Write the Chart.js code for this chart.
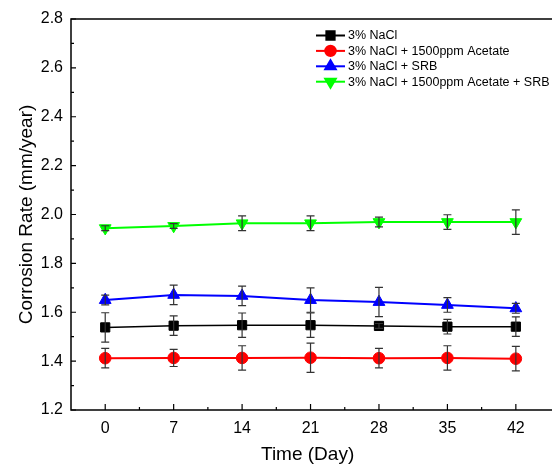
<!DOCTYPE html>
<html>
<head>
<meta charset="utf-8">
<script src="https://cdn.jsdelivr.net/npm/chart.js@4.4.1/dist/chart.umd.min.js"></script>
<style>
html,body{margin:0;padding:0;background:#fff;overflow:hidden;}
#wrap{width:552px;height:468px;position:relative;}
</style>
</head>
<body>
<div id="wrap"><canvas id="c" width="552" height="468"></canvas></div>
<script>
const days = [0, 7, 14, 21, 28, 35, 42];
const yTicks = [1.2, 1.4, 1.6, 1.8, 2.0, 2.2, 2.4, 2.6, 2.8];
const labels = ['3% NaCl', '3% NaCl + 1500ppm Acetate', '3% NaCl + SRB', '3% NaCl + 1500ppm Acetate + SRB'];
const nacl = [1.538, 1.545, 1.547, 1.547, 1.544, 1.541, 1.541];
const naclErr = [0.06, 0.04, 0.05, 0.05, 0.01, 0.03, 0.04];
const acetate = [1.412, 1.413, 1.413, 1.414, 1.412, 1.413, 1.410];
const acetateErr = [0.04, 0.035, 0.05, 0.06, 0.04, 0.05, 0.05];
const srb = [1.650, 1.671, 1.667, 1.650, 1.642, 1.630, 1.616];
const srbErr = [0.02, 0.04, 0.04, 0.05, 0.06, 0.03, 0.02];
const both = [1.944, 1.953, 1.964, 1.964, 1.969, 1.969, 1.969];
const bothErr = [0.01, 0.01, 0.03, 0.03, 0.02, 0.03, 0.05];

const FONT = "'Liberation Sans', Arial, sans-serif";
const toPts = arr => arr.map((v, i) => ({x: days[i], y: v}));

function ds(label, values, errs, color, style, radius, rotation, lw) {
  return {
    label: label, data: toPts(values), errors: errs,
    borderColor: color, backgroundColor: color,
    pointBackgroundColor: color, pointBorderColor: color,
    pointStyle: style, pointRadius: radius, pointRotation: rotation,
    pointBorderWidth: 1, borderWidth: lw, tension: 0, fill: false
  };
}

const frameTicks = {
  id: 'frameTicks',
  afterDraw(chart) {
    const ctx = chart.ctx, a = chart.chartArea;
    const xs = chart.scales.x, ys = chart.scales.y;
    ctx.save();
    ctx.strokeStyle = '#000';
    ctx.lineWidth = 1.5;
    ctx.beginPath();
    ctx.moveTo(chart.width, a.top); ctx.lineTo(a.left, a.top);
    ctx.lineTo(a.left, a.bottom); ctx.lineTo(chart.width, a.bottom);
    ctx.stroke();
    ctx.lineWidth = 1.2;
    ctx.beginPath();
    for (let v = 12; v <= 28; v++) {
      const y = ys.getPixelForValue(v / 10);
      const len = (v % 2 === 0) ? 5 : 3;
      ctx.moveTo(a.left, y); ctx.lineTo(a.left + len, y);
    }
    for (let k = 0; k <= 13; k++) {
      const v = -3.5 + k * 3.5;
      const x = xs.getPixelForValue(v);
      if (x < a.left + 1 || x > a.right) continue;
      const len = (k % 2 === 1) ? 6 : 3;
      ctx.moveTo(x, a.bottom); ctx.lineTo(x, a.bottom - len);
    }
    ctx.stroke();
    ctx.restore();
  }
};

const errorBars = {
  id: 'errorBars',
  afterDatasetsDraw(chart) {
    const ctx = chart.ctx;
    const xs = chart.scales.x, ys = chart.scales.y;
    ctx.save();
    ctx.strokeStyle = '#333';
    ctx.lineWidth = 1.2;
    chart.data.datasets.forEach(d => {
      d.data.forEach((p, i) => {
        const e = d.errors[i];
        const x = xs.getPixelForValue(p.x);
        const y1 = ys.getPixelForValue(p.y + e);
        const y2 = ys.getPixelForValue(p.y - e);
        ctx.beginPath();
        ctx.moveTo(x, y1); ctx.lineTo(x, y2);
        ctx.moveTo(x - 4, y1); ctx.lineTo(x + 4, y1);
        ctx.moveTo(x - 4, y2); ctx.lineTo(x + 4, y2);
        ctx.stroke();
      });
    });
    ctx.restore();
  }
};

const customLegend = {
  id: 'customLegend',
  afterDraw(chart) {
    const ctx = chart.ctx;
    const x0 = 316, x1 = 345, xt = 348, y0 = 35.5, dy = 15.4;
    ctx.save();
    ctx.font = '12.5px ' + FONT;
    ctx.textBaseline = 'middle';
    ctx.textAlign = 'left';
    chart.data.datasets.forEach((d, i) => {
      const y = y0 + i * dy;
      ctx.strokeStyle = d.borderColor;
      ctx.lineWidth = 2;
      ctx.beginPath(); ctx.moveTo(x0, y); ctx.lineTo(x1, y); ctx.stroke();
      ctx.fillStyle = d.backgroundColor;
      Chart.helpers.drawPoint(ctx, {
        pointStyle: d.pointStyle, radius: d.pointRadius * 0.9,
        rotation: d.pointRotation, borderWidth: 1
      }, (x0 + x1) / 2, y);
      ctx.fillStyle = '#000';
      ctx.fillText(d.label, xt, y + 0.5);
    });
    ctx.restore();
  }
};

new Chart(document.getElementById('c'), {
  type: 'line',
  data: {
    datasets: [
      ds(labels[0], nacl, naclErr, '#000000', 'rect', 6.5, 0, 1.5),
      ds(labels[1], acetate, acetateErr, '#ff0000', 'circle', 5.8, 0, 2),
      ds(labels[2], srb, srbErr, '#0000ff', 'triangle', 6.8, 0, 2),
      ds(labels[3], both, bothErr, '#00ff00', 'triangle', 6.8, 180, 2)
    ]
  },
  options: {
    responsive: false,
    animation: false,
    layout: {padding: {left: 0, top: 19, right: 0, bottom: 0}},
    plugins: {legend: {display: false}, tooltip: {enabled: false}},
    scales: {
      x: {
        type: 'linear', min: -3.5, max: 44.9,
        grid: {display: false}, border: {display: false},
        afterBuildTicks: s => { s.ticks = days.map(v => ({value: v})); },
        afterFit: s => { s.height = 58; },
        ticks: {color: '#000', font: {family: FONT, size: 16}, padding: 1, maxRotation: 0,
                callback: v => String(v)},
        title: {display: true, text: 'Time (Day)', color: '#000',
                font: {family: FONT, size: 19}, padding: {top: 0, bottom: 2}}
      },
      y: {
        type: 'linear', min: 1.2, max: 2.8,
        grid: {display: false}, border: {display: false},
        afterBuildTicks: s => { s.ticks = yTicks.map(v => ({value: v})); },
        afterFit: s => { s.width = 71; },
        ticks: {color: '#000', font: {family: FONT, size: 16}, padding: 0,
                callback: v => Number(v).toFixed(1)},
        title: {display: true, text: 'Corrosion Rate (mm/year)', color: '#000',
                font: {family: FONT, size: 19}, padding: {top: 15, bottom: 0}}
      }
    }
  },
  plugins: [errorBars, frameTicks, customLegend]
});
</script>
</body>
</html>
